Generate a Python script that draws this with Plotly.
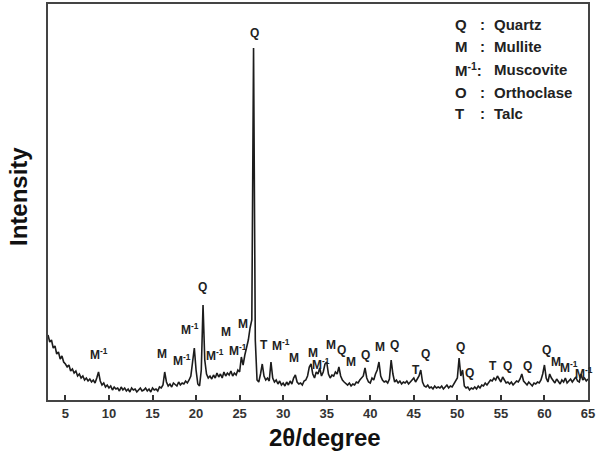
import numpy as np
import plotly.graph_objects as go

# 2-theta grid (degree), step 0.2 from 3 to 65
two_theta = np.round(np.arange(3.0, 65.0001, 0.2), 1)

# intensity (arbitrary units)
intensity = [
    65, 58, 60, 52, 54,
    46, 48, 41, 44, 38,
    36, 33, 35, 29, 31,
    27, 29, 24, 26, 22,
    24, 20, 22, 19, 21,
    18, 20, 17, 22, 28,
    19, 15, 17, 13, 15,
    12, 14, 10, 13, 11,
    12, 9, 13, 10, 12,
    9, 11, 8, 12, 10,
    11, 8, 10, 12, 9,
    10, 12, 9, 11, 8,
    12, 10, 11, 9, 13,
    12, 15, 28, 18, 14,
    16, 13, 17, 15, 14,
    18, 15, 17, 16, 19,
    17, 20, 24, 38, 52,
    30, 16, 14, 30, 95,
    40, 26, 22, 24, 21,
    25, 22, 27, 23, 26,
    22, 28, 24, 27, 25,
    29, 24, 27, 25, 30,
    28, 43, 35, 45, 52,
    60, 72, 80, 352, 60,
    20, 18, 26, 36, 24,
    20, 22, 19, 38, 22,
    18, 20, 16, 19, 15,
    17, 14, 18, 15, 19,
    16, 22, 25, 18, 16,
    17, 15, 19, 20, 24,
    33, 36, 26, 22, 28,
    26, 32, 24, 28, 36,
    38, 26, 22, 25, 24,
    28, 26, 33, 24, 20,
    18, 16, 15, 17, 14,
    16, 15, 18, 17, 20,
    22, 24, 32, 22, 18,
    17, 22, 20, 26, 30,
    38, 24, 20, 18, 19,
    17, 21, 40, 26, 18,
    20, 17, 19, 16, 18,
    17, 19, 16, 18, 20,
    22, 18, 21, 24, 30,
    18, 14, 13, 15, 12,
    13, 11, 14, 12, 13,
    12, 14, 11, 13, 15,
    12, 14, 13, 16, 18,
    22, 42, 24, 30, 14,
    12, 13, 10, 12, 11,
    13, 11, 14, 12, 15,
    14, 17, 15, 18, 20,
    19, 22, 20, 24, 21,
    18, 23, 20, 17, 18,
    16, 18, 15, 17, 19,
    18, 21, 26, 19, 17,
    15, 18, 16, 14, 17,
    16, 18, 17, 20, 26,
    35, 22, 18, 26, 22,
    19, 17, 21, 18, 16,
    20, 18, 22, 17, 19,
    21, 18, 20, 23, 19,
    18, 26, 20, 22, 19, 21,
]

# phase labels above peaks
label_text = ["M<sup>-1</sup>", "M", "M<sup>-1</sup>", "M<sup>-1</sup>", "Q", "M<sup>-1</sup>",
              "M", "M<sup>-1</sup>", "M", "Q", "T", "M<sup>-1</sup>", "M",
              "M", "M<sup>-1</sup>", "M", "Q", "M", "Q", "M", "Q", "T", "Q",
              "Q", "Q", "T", "Q", "Q", "Q", "M", "M<sup>-1</sup>", "M<sup>-1</sup>"]
label_x = [8.9, 16.1, 18.4, 19.3, 20.7, 22.2,
           23.4, 24.8, 25.4, 26.7, 27.85, 29.7, 31.2,
           33.4, 34.3, 35.45, 36.7, 37.75, 39.5, 41.1, 42.8, 45.2, 46.3,
           50.4, 51.4, 54.1, 55.7, 58.0, 60.2, 61.3, 62.8, 64.55]
label_y = [46, 46, 40, 71, 113, 45,
           68, 50, 76, 367, 55, 55, 42,
           47, 36, 55, 50, 38, 45, 53, 55, 30, 46,
           53, 27, 34, 34, 34, 50, 38, 33, 27]

legend_symbol = ["Q", "M", "M<sup>-1</sup>:", "O", "T"]
legend_name = ["Quartz", "Mullite", "Muscovite", "Orthoclase", "Talc"]

x_ticks = [5, 10, 15, 20, 25, 30, 35, 40, 45, 50, 55, 60, 65]

FONT = "Liberation Sans, Arial, sans-serif"
L, R, T, B = 48, 9, 4, 59
PW, PH = 597 - L - R, 459 - T - B

fig = go.Figure()
fig.add_trace(go.Scatter(
    x=two_theta, y=intensity, mode="lines",
    line=dict(color="#1c1c1c", width=1.6),
    hoverinfo="skip", showlegend=False,
))

for t, xx, yy in zip(label_text, label_x, label_y):
    fig.add_annotation(
        x=xx, y=yy, xref="x", yref="y", text=t, showarrow=False,
        font=dict(family=FONT, size=12, color="#222", weight="bold"),
        yanchor="middle", xanchor="center",
    )

row_y = [25, 47, 70, 92, 113]
for s, n, py in zip(legend_symbol, legend_name, row_y):
    yp = 1 - (py - T) / PH
    fig.add_annotation(x=(453 - L) / PW, y=yp, xref="paper", yref="paper",
                       text=s, showarrow=False, xanchor="left", yanchor="middle",
                       font=dict(family=FONT, size=15, color="#222", weight="bold"))
    if not s.endswith(":"):
        fig.add_annotation(x=(482 - L) / PW, y=yp, xref="paper", yref="paper",
                           text=":", showarrow=False, xanchor="center", yanchor="middle",
                           font=dict(family=FONT, size=15, color="#222", weight="bold"))
    fig.add_annotation(x=(492 - L) / PW, y=yp, xref="paper", yref="paper",
                       text=n, showarrow=False, xanchor="left", yanchor="middle",
                       font=dict(family=FONT, size=15, color="#222", weight="bold"))

# axis titles placed at the reference positions
fig.add_annotation(x=(325 - L) / PW, y=-(437 - T - PH) / PH, xref="paper", yref="paper",
                   text="2θ/degree", showarrow=False, xanchor="center", yanchor="middle",
                   font=dict(family=FONT, size=24, color="#111", weight="bold"))
fig.add_annotation(x=-(L - 18) / PW, y=1 - (197 - T) / PH, xref="paper", yref="paper",
                   text="Intensity", showarrow=False, textangle=-90,
                   xanchor="center", yanchor="middle",
                   font=dict(family=FONT, size=24, color="#111", weight="bold"))

fig.update_layout(
    width=597, height=459,
    margin=dict(l=L, r=R, t=T, b=B, autoexpand=False),
    paper_bgcolor="white", plot_bgcolor="white",
    font=dict(family=FONT, color="#222"),
    xaxis=dict(
        range=[3, 65], tickvals=x_ticks, ticks="inside", ticklen=5, tickwidth=1.5,
        tickcolor="#333", showgrid=False, zeroline=False, automargin=False,
        showline=True, linecolor="#444", linewidth=2, mirror=True,
        tickfont=dict(family=FONT, size=13, color="#333", weight="bold"),
    ),
    yaxis=dict(
        range=[0, 396], showticklabels=False, ticks="", showgrid=False, zeroline=False,
        automargin=False,
        showline=True, linecolor="#444", linewidth=2, mirror=True,
    ),
)

fig.write_html("out.html", config={"displayModeBar": False},
               post_script="document.body.style.margin='0px';document.body.style.overflow='hidden';")
